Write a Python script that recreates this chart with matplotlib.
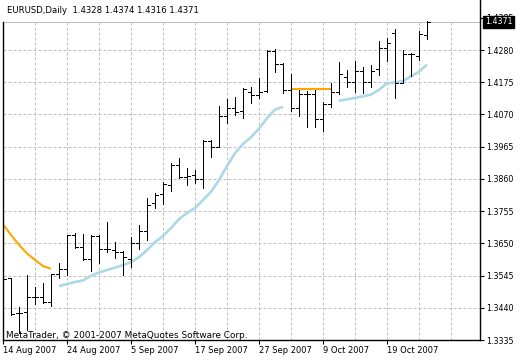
import matplotlib
matplotlib.use("Agg")
import matplotlib.pyplot as plt
import numpy as np

nan = np.nan
title = "EURUSD,Daily  1.4328 1.4374 1.4316 1.4371"
watermark = "MetaTrader, \u00a9 2001-2007 MetaQuotes Software Corp."

opens = [1.3589, 1.3536, 1.3424, 1.3427, 1.3474, 1.3476, 1.3460, 1.3549, 1.3566, 1.3677,
         1.3638, 1.3599, 1.3674, 1.3633, 1.3628, 1.3622, 1.3599, 1.3650, 1.3690, 1.3780,
         1.3810, 1.3840, 1.3904, 1.3867, 1.3873, 1.3859, 1.3984, 1.3963, 1.4065, 1.4090,
         1.4081, 1.4144, 1.4133, 1.4146, 1.4278, 1.4233, 1.4149, 1.4090, 1.4136, 1.4136,
         1.4055, 1.4103, 1.4143, 1.4192, 1.4177, 1.4210, 1.4177, 1.4217, 1.4286, 1.4335,
         1.4173, 1.4267, 1.4260, 1.4328]
highs = [1.3625, 1.3536, 1.3444, 1.3547, 1.3509, 1.3522, 1.3549, 1.3585, 1.3677, 1.3683,
         1.3679, 1.3677, 1.3676, 1.3721, 1.3653, 1.3625, 1.3670, 1.3710, 1.3797, 1.3813,
         1.3849, 1.3913, 1.3927, 1.3895, 1.3889, 1.3987, 1.3987, 1.4098, 1.4120, 1.4128,
         1.4155, 1.4160, 1.4188, 1.4280, 1.4282, 1.4237, 1.4201, 1.4150, 1.4146, 1.4150,
         1.4109, 1.4172, 1.4242, 1.4215, 1.4244, 1.4226, 1.4231, 1.4310, 1.4318, 1.4348,
         1.4280, 1.4269, 1.4343, 1.4374]
lows = [1.3531, 1.3417, 1.3358, 1.3368, 1.3452, 1.3457, 1.3447, 1.3536, 1.3547, 1.3634,
        1.3596, 1.3560, 1.3586, 1.3622, 1.3603, 1.3547, 1.3573, 1.3632, 1.3661, 1.3764,
        1.3777, 1.3822, 1.3864, 1.3840, 1.3848, 1.3829, 1.3932, 1.3963, 1.4041, 1.4068,
        1.4059, 1.4108, 1.4123, 1.4143, 1.4209, 1.4140, 1.4082, 1.4066, 1.4030, 1.4030,
        1.4017, 1.4094, 1.4136, 1.4158, 1.4142, 1.4141, 1.4159, 1.4199, 1.4245, 1.4124,
        1.4172, 1.4195, 1.4247, 1.4316]
closes = [1.3533, 1.3421, 1.3424, 1.3474, 1.3474, 1.3460, 1.3549, 1.3566, 1.3677, 1.3639,
          1.3599, 1.3674, 1.3633, 1.3632, 1.3623, 1.3606, 1.3650, 1.3690, 1.3775, 1.3807,
          1.3842, 1.3904, 1.3867, 1.3869, 1.3859, 1.3984, 1.3965, 1.4065, 1.4090, 1.4077,
          1.4152, 1.4133, 1.4144, 1.4278, 1.4234, 1.4149, 1.4090, 1.4136, 1.4136, 1.4055,
          1.4103, 1.4142, 1.4202, 1.4177, 1.4212, 1.4177, 1.4213, 1.4286, 1.4302, 1.4173,
          1.4267, 1.4267, 1.4332, 1.4371]

# indicator line, split by colour (NaN where the other colour is drawn)
ma_blue = [nan, nan, nan, nan, nan, nan, nan, 1.3511, 1.3517, 1.3524,
           1.3529, 1.3544, 1.3555, 1.3563, 1.3571, 1.3579, 1.3589, 1.3605, 1.3628, 1.3654,
           1.3674, 1.3700, 1.3729, 1.3749, 1.3765, 1.3791, 1.3818, 1.3856, 1.3902, 1.3944,
           1.3974, 1.3996, 1.4023, 1.4058, 1.4086, 1.4095, nan, nan, nan, nan,
           nan, nan, 1.4115, 1.4119, 1.4124, 1.4129, 1.4135, 1.4150, 1.4172, 1.4174,
           1.4179, 1.4194, 1.4209, 1.4233]
ma_orange = [1.3712, 1.3677, 1.3645, 1.3617, 1.3596, 1.3576, 1.3567, nan, nan, nan,
             nan, nan, nan, nan, nan, nan, nan, nan, nan, nan,
             nan, nan, nan, nan, nan, nan, nan, nan, nan, nan,
             nan, nan, nan, nan, nan, nan, 1.4153, 1.4153, 1.4153, 1.4153,
             1.4153, 1.4153, nan, nan, nan, nan, nan, nan, nan, nan,
             nan, nan, nan, nan]

date_ticks = [0, 8, 16, 24, 32, 40, 48]
date_labels = ["14 Aug 2007", "24 Aug 2007", "5 Sep 2007", "17 Sep 2007",
               "27 Sep 2007", "9 Oct 2007", "19 Oct 2007"]
price_ticks = [1.3335, 1.3440, 1.3545, 1.3650, 1.3755, 1.3860, 1.3965,
               1.4070, 1.4175, 1.4280, 1.4385]
price_labels = ["1.3335", "1.3440", "1.3545", "1.3650", "1.3755", "1.3860", "1.3965",
                "1.4070", "1.4175", "1.4280", "1.4385"]

W, H = 520, 360
fig = plt.figure(figsize=(W / 100, H / 100), dpi=100)
fig.patch.set_facecolor("white")
ax = fig.add_axes([3 / W, 20 / H, 477 / W, 340 / H])

n = len(opens)
x = np.arange(n)
last = closes[-1]
px = 0.72  # one pixel in points

ymin = price_ticks[0]
ymax = ymin + 340 * (price_ticks[9] - ymin) / 290.0
xmax = 477 / 8.0
ax.set_xlim(0, xmax)
ax.set_ylim(ymin, ymax)

grid_kw = dict(color="#C0C0C0", lw=px, linestyles=(0, (3, 2)), zorder=1)
ax.hlines([p for p in price_ticks if p <= last], 0, xmax, **grid_kw)
ax.vlines(np.arange(4, xmax, 4), ymin, last, **grid_kw)
ax.axhline(last, color="#C0C0C0", lw=px, antialiased=False, zorder=1.5)

ax.plot(x, ma_blue, color="#ADD8E6", lw=1.9, zorder=2, solid_capstyle="butt")
ax.plot(x, ma_orange, color="#FFA500", lw=1.5, zorder=2, solid_capstyle="butt")

bar_kw = dict(color="black", lw=px, antialiased=False, zorder=3)
ax.vlines(x, lows, highs, **bar_kw)
ax.hlines(opens, x - 0.375, x, **bar_kw)
ax.hlines(closes, x, x + 0.375, **bar_kw)

ax.spines["top"].set_visible(False)
ax.spines["left"].set_bounds(ymin, last)
for s in ["left", "right", "bottom"]:
    ax.spines[s].set_linewidth(1.0)
    ax.spines[s].set_color("black")

ax.yaxis.tick_right()
ax.set_yticks(price_ticks)
ax.set_yticklabels(price_labels)
ax.set_xticks(date_ticks)
ax.set_xticklabels(date_labels, ha="left")
ax.tick_params(axis="y", direction="out", length=3, width=0.8, pad=1.5,
               labelsize=5.7, colors="black")
ax.tick_params(axis="x", direction="out", length=3, width=0.8, pad=1.5,
               labelsize=6.0, colors="black")

ax.text(3 / 477, 5 / 340, watermark, transform=ax.transAxes,
        fontsize=6.4, color="black", va="center", ha="left", zorder=4)
fig.text(7 / W, 1 - 10.5 / H, title, fontsize=6.1, color="black", va="center", ha="left")
fig.text(485 / W, 1 - 22 / H, "%.4f" % last, fontsize=5.7, color="white",
         va="center", ha="left",
         bbox=dict(boxstyle="square,pad=0.25", fc="black", ec="black"), zorder=10)

fig.savefig("out.png", dpi=100, facecolor="white")
